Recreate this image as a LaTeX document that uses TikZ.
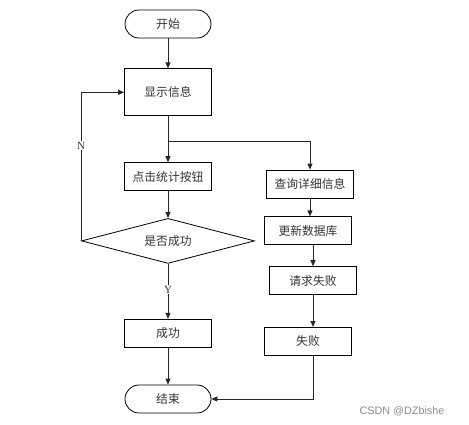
\documentclass[tikz,border=0pt]{standalone}
\usepackage{fontspec}
\newfontfamily\cjk{Noto Sans CJK SC}
\newfontfamily\wmfont{Liberation Sans}
\setmainfont{Liberation Serif}
\usepackage{tikz}
\usetikzlibrary{arrows.meta,positioning,calc,shapes.geometric}

\begin{document}
\begin{tikzpicture}[
    x=1pt, y=-1pt,
    line width=0.8pt,
    every node/.style={text=black!80},
    proc/.style={draw, rectangle, minimum width=87pt, minimum height=28pt, inner sep=2pt, font=\cjk\fontsize{11.8}{13}\selectfont},
    term/.style={draw, rectangle, rounded corners=14pt, minimum width=86pt, minimum height=28pt, inner sep=2pt, font=\cjk\fontsize{11.8}{13}\selectfont},
    decision/.style={draw, diamond, aspect=3.8, inner sep=0pt, minimum width=173pt, minimum height=45pt, font=\cjk\fontsize{11.8}{13}\selectfont},
    arr/.style={-{Triangle[length=6pt,width=5pt]}, draw=black!85},
    yn/.style={fill=white, inner sep=1pt, font=\fontsize{11}{13}\selectfont}
  ]
    \useasboundingbox (0,0) rectangle (469,424);
    % left column
    \node[term] (start) at (168,24) {开始};
    \node[proc, minimum height=47pt, below=30pt of start] (show) {显示信息};
    \node[proc, below=46pt of show] (click) {点击统计按钮};
    \node[decision, below=27pt of click] (judge) {是否成功};
    \node[proc, below=55pt of judge] (ok) {成功};
    \node[term, below=37pt of ok] (end) {结束};
    % right column
    \node[proc] (query) at (310,184) {查询详细信息};
    \node[proc, below=18pt of query, xshift=-2pt] (update) {更新数据库};
    \node[proc, below=21pt of update, xshift=5pt] (req) {请求失败};
    \node[proc, below=32pt of req, xshift=-5pt] (fail) {失败};
    \coordinate (split) at ($(show.south)+(0,25)$);
    % connectors
    \draw[arr] (start) -- (show);
    \draw[arr] (show) -- (click);
    \draw[arr] (split) -| (query);
    \draw[arr] (click) -- (judge);
    \draw[arr] (judge.west) |- node[yn, pos=0.32] {N} (show.west);
    \draw[arr] (judge) -- node[yn, pos=0.47] {Y} (ok);
    \draw[arr] (ok) -- (end);
    \draw[arr] (query.south) -- (query.south |- update.north);
    \draw[arr] (update.south -| req) -- (req);
    \draw[arr] (req) -- (req |- fail.north);
    \draw[arr] (fail.south -| req) |- (end);
    \node[text=black!45, font=\wmfont\fontsize{10.8}{12}\selectfont] (mark) at (402,411) {CSDN @DZbishe};
\end{tikzpicture}
\end{document}
